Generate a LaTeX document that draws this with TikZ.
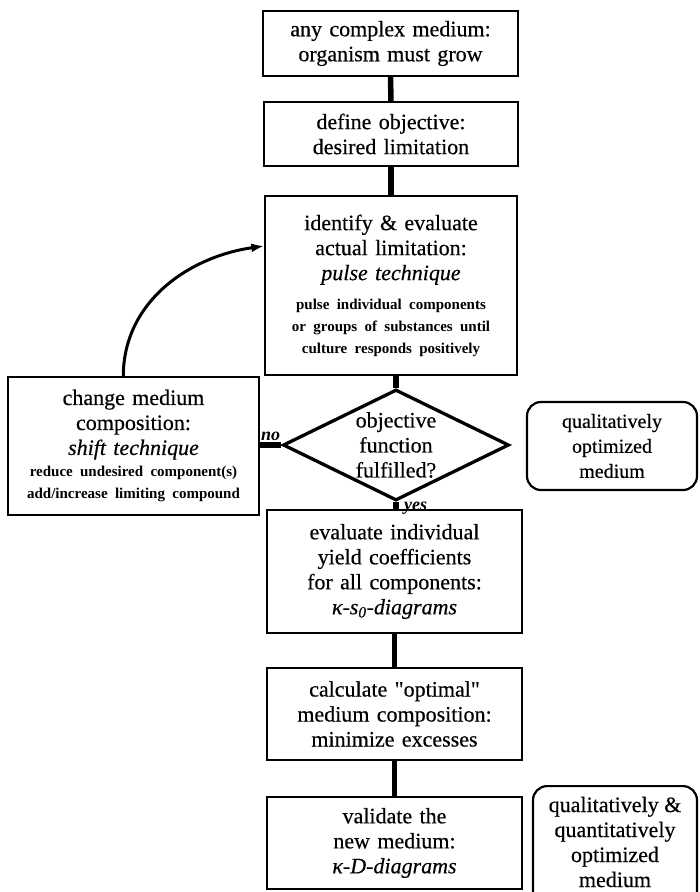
\documentclass[tikz,border=0pt]{standalone}
\usepackage{fontspec}
\setmainfont{Liberation Serif}[Ligatures=TeXOff, UprightFeatures={FakeBold=0.4}, ItalicFeatures={FakeBold=0.4}]
\usetikzlibrary{shapes.geometric,arrows.meta}
\newcommand\mainf{\fontsize{22}{25}\selectfont}
\newcommand\smallbf{\fontsize{15}{22}\selectfont\bfseries}
\tikzset{
  box/.style={draw, line width=1.4pt, inner sep=0pt, align=center, font=\mainf},
  rbox/.style={draw, line width=2.2pt, rounded corners=14pt, inner sep=0pt, align=center, font=\mainf},
  conn/.style={line width=5.5pt},
  lbl/.style={inner sep=0pt, font=\fontsize{18}{20}\selectfont\bfseries\itshape},
  curvearrow/.style={line width=3pt, -{Latex[length=13pt,width=9pt]}}
}
\begin{document}
\begin{tikzpicture}[x=1pt,y=-1pt]
\useasboundingbox (0,0) rectangle (700,892);
\node[box, text width=255pt, minimum height=65pt] (b1) at (390.5,43.5) {any complex medium:\\ organism must grow};
\node[box, text width=254pt, minimum height=64pt] (b2) at (391,134) {define objective:\\ desired limitation};
\node[box, text width=252pt, minimum height=179pt] (b3) at (391,285.5) {identify \& evaluate\\ actual limitation:\\ \textit{pulse technique}\par\vspace{7pt}{\smallbf pulse individual components\\ or groups of substances until\\ culture responds positively\par}};
\node[diamond, draw, line width=3.3pt, minimum width=226pt, minimum height=111pt, inner sep=0pt] (dia) at (396,445) {};
\node[font=\mainf, align=center, inner sep=0pt] (diat) at (dia.center) {objective\\ function\\ fulfilled?};
\node[box, text width=251pt, minimum height=138pt] (lb) at (133.5,446) {change medium\\ composition:\\ \textit{shift technique}\par{\smallbf reduce undesired component(s)\\ add/increase limiting compound\par}};
\node[rbox, text width=170pt, minimum height=88pt, font=\fontsize{20}{25}\selectfont] (r1) at (612,446) {qualitatively\\ optimized\\ medium};
\node[box, text width=255pt, minimum height=123pt] (b4) at (394.5,571.5) {evaluate individual\\ yield coefficients\\ for all components:\\ \textit{κ-s\textsubscript{0}-diagrams}};
\node[box, text width=255pt, minimum height=92pt] (b5) at (394.5,714) {calculate "optimal"\\ medium composition:\\ minimize excesses};
\node[box, text width=255pt, minimum height=92pt] (b6) at (394.5,843) {validate the\\ new medium:\\ \textit{κ-D-diagrams}};
\node[rbox, minimum width=164pt, minimum height=130pt, anchor=north] (r2) at (615,785) {};
\node[font=\mainf, align=center, inner sep=0pt] (r2t) at (615,842) {qualitatively \&\\ quantitatively\\ optimized\\ medium};
\draw[conn] (b1.south) -- (b2.north);
\draw[conn] (b2.south) -- (b3.north);
\draw[conn] (b3.south -| dia.north) -- (dia.north);
\draw[conn] (dia.south) -- (dia.south |- b4.north);
\draw[conn] (b4.south) -- (b5.north);
\draw[conn] (b5.south) -- (b6.north);
\draw[conn] (dia.west) -- (dia.west -| lb.east);
\node[lbl, anchor=south east] (nolbl) at ([xshift=-1pt,yshift=4pt]dia.west) {no};
\node[lbl, anchor=west] (yeslbl) at ([xshift=8pt,yshift=-6pt]dia.south) {yes};
\draw[curvearrow] ([xshift=116pt]lb.north west) to[out=90,in=188] ([yshift=39.5pt]b3.west);
\end{tikzpicture}
\end{document}
